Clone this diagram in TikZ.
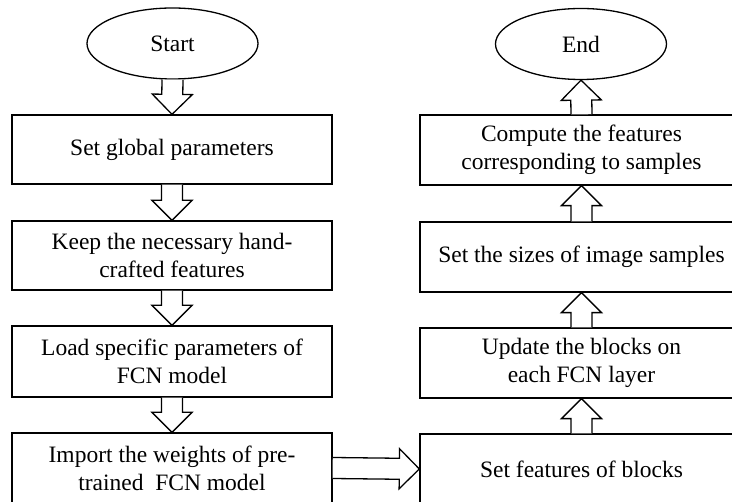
\documentclass[tikz,border=0pt]{standalone}
\usepackage{fontspec}
\setmainfont{Liberation Serif}
\usetikzlibrary{shapes.geometric,calc}

\tikzset{
  flowbox/.style={draw, line width=1.3pt, rectangle, inner sep=0pt, align=center,
    font=\fontsize{23.5}{28}\selectfont},
  terminal/.style={draw, line width=1.3pt, ellipse, inner sep=0pt,
    minimum width=171pt, minimum height=71pt, font=\fontsize{23.5}{28}\selectfont},
  blockarr/.style={draw, line width=1.3pt, fill=white, line join=miter},
}

% hollow block arrow from #1 to #2 (shaft half width 10.5, head half width 20, head length 20)
\newcommand\hollowarrow[2]{%
  \coordinate (ha-s) at (#1);
  \coordinate (ha-t) at (#2);
  \coordinate (ha-h) at ($(ha-t)!20pt!(ha-s)$);
  \draw[blockarr]
    ($(ha-s)!10.5pt!90:(ha-t)$) -- ($(ha-h)!10.5pt!-90:(ha-s)$) --
    ($(ha-h)!20pt!-90:(ha-s)$) -- (ha-t) -- ($(ha-h)!20pt!90:(ha-s)$) --
    ($(ha-h)!10.5pt!90:(ha-s)$) -- ($(ha-s)!10.5pt!-90:(ha-t)$);
}

\begin{document}
\begin{tikzpicture}[x=1pt, y=-1pt]
  \useasboundingbox (0,0) rectangle (732,502);
  \clip (0,0) rectangle (732,502);

  % left column
  \node[terminal] (start) at (172.5,43.5) {Start};
  \node[flowbox, minimum width=320pt, minimum height=69pt] (glob) at (172,149.5)
    {Set global parameters};
  \node[flowbox, minimum width=320pt, minimum height=69pt] (keep) at (172,255.5)
    {Keep the necessary hand-\\crafted features};
  \node[flowbox, minimum width=320pt, minimum height=71pt] (load) at (172,361.5)
    {Load specific parameters of\\FCN model};
  \node[flowbox, minimum width=320pt, minimum height=70pt] (import) at (172,468)
    {Import the weights of pre-\\trained\ \ FCN model};

  % right column
  \node[terminal] (end) at (581,44) {End};
  \node[flowbox, minimum width=323pt, minimum height=70pt] (comp) at (581.5,150)
    {Compute the features\\corresponding to samples};
  \node[flowbox, minimum width=323pt, minimum height=70pt] (sizes) at (581.5,257)
    {Set the sizes of image samples};
  \node[flowbox, minimum width=323pt, minimum height=70pt] (upd) at (581.5,363)
    {Update the blocks on\\each FCN layer};
  \node[flowbox, minimum width=323pt, minimum height=70pt] (feat) at (581.5,469)
    {Set features of blocks};

  % connectors
  \hollowarrow{start.south}{glob.north}
  \hollowarrow{glob.south}{keep.north}
  \hollowarrow{keep.south}{load.north}
  \hollowarrow{load.south}{import.north}
  \hollowarrow{import.east}{feat.west}
  \hollowarrow{feat.north}{upd.south}
  \hollowarrow{upd.north}{sizes.south}
  \hollowarrow{sizes.north}{comp.south}
  \hollowarrow{comp.north}{end.south}
\end{tikzpicture}
\end{document}
